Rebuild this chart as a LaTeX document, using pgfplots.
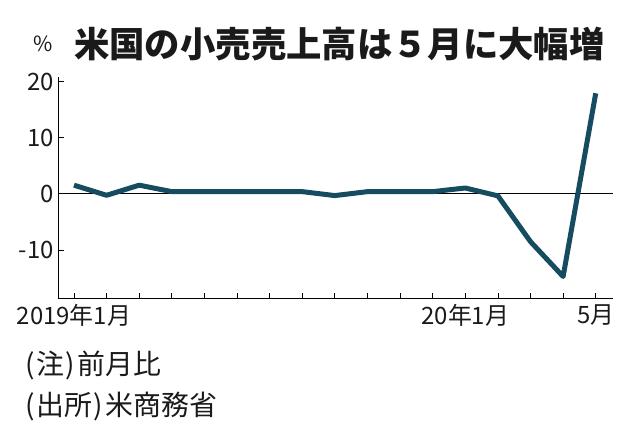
\documentclass[border=0pt]{standalone}
\usepackage{fontspec}
\setmainfont{Noto Sans CJK JP}
\usepackage{pgfplots}
\pgfplotsset{compat=1.18}
\definecolor{linec}{RGB}{22,76,96}
\definecolor{txt}{RGB}{26,26,26}
\begin{document}
\begin{tikzpicture}[x=1bp,y=1bp]
\path[use as bounding box] (0,0) rectangle (630,434);
\node[anchor=west, font=\fontsize{35.5}{38}\selectfont\bfseries, text=txt, inner sep=0] at (74,390) {米国の小売売上高は５月に大幅増};
\node[anchor=west, font=\fontsize{21}{24}\selectfont, text=txt, inner sep=0] at (33,390) {\%};
\begin{axis}[
  at={(58bp,135bp)}, anchor=south west,
  scale only axis, width=555bp, height=222bp,
  xmin=-0.49, xmax=16.53, ymin=-18.7, ymax=20.8,
  axis x line*=bottom, axis y line*=left,
  axis line style={-, black, line width=1bp},
  ytick={-10,0,10,20}, yticklabels={-10,0,10,20},
  xtick={0,...,16},
  xticklabels={2019年1月,,,,,,,,,,,,20年1月,,,,5月},
  tick align=inside, major tick length=6bp,
  tick style={black, line width=0.8bp},
  ticklabel style={font=\fontsize{24}{26}\selectfont, text=txt},
  yticklabel style={inner xsep=4bp, inner ysep=0pt},
  xticklabel style={inner ysep=5bp, inner xsep=0pt},
]
\addplot[black, line width=0.9bp] coordinates {(-0.49,0) (16.53,0)};
\addplot[linec, line width=5bp, line join=round] coordinates {
(0,1.55) (1,-0.25) (2,1.55) (3,0.4) (4,0.4) (5,0.4) (6,0.4) (7,0.4)
(8,-0.3) (9,0.4) (10,0.4) (11,0.4) (12,1.05) (13,-0.35) (14,-8.5) (15,-14.7) (16,17.9)
};
\end{axis}
\node[anchor=west, font=\fontsize{28}{30}\selectfont, text=txt, inner sep=0] at (25,69) {(\kern1.5bp 注\kern1.5bp)\kern3bp 前月比};
\node[anchor=west, font=\fontsize{28}{30}\selectfont, text=txt, inner sep=0] at (25,27) {(\kern1.5bp 出所\kern1.5bp)\kern3bp 米商務省};
\end{tikzpicture}
\end{document}
